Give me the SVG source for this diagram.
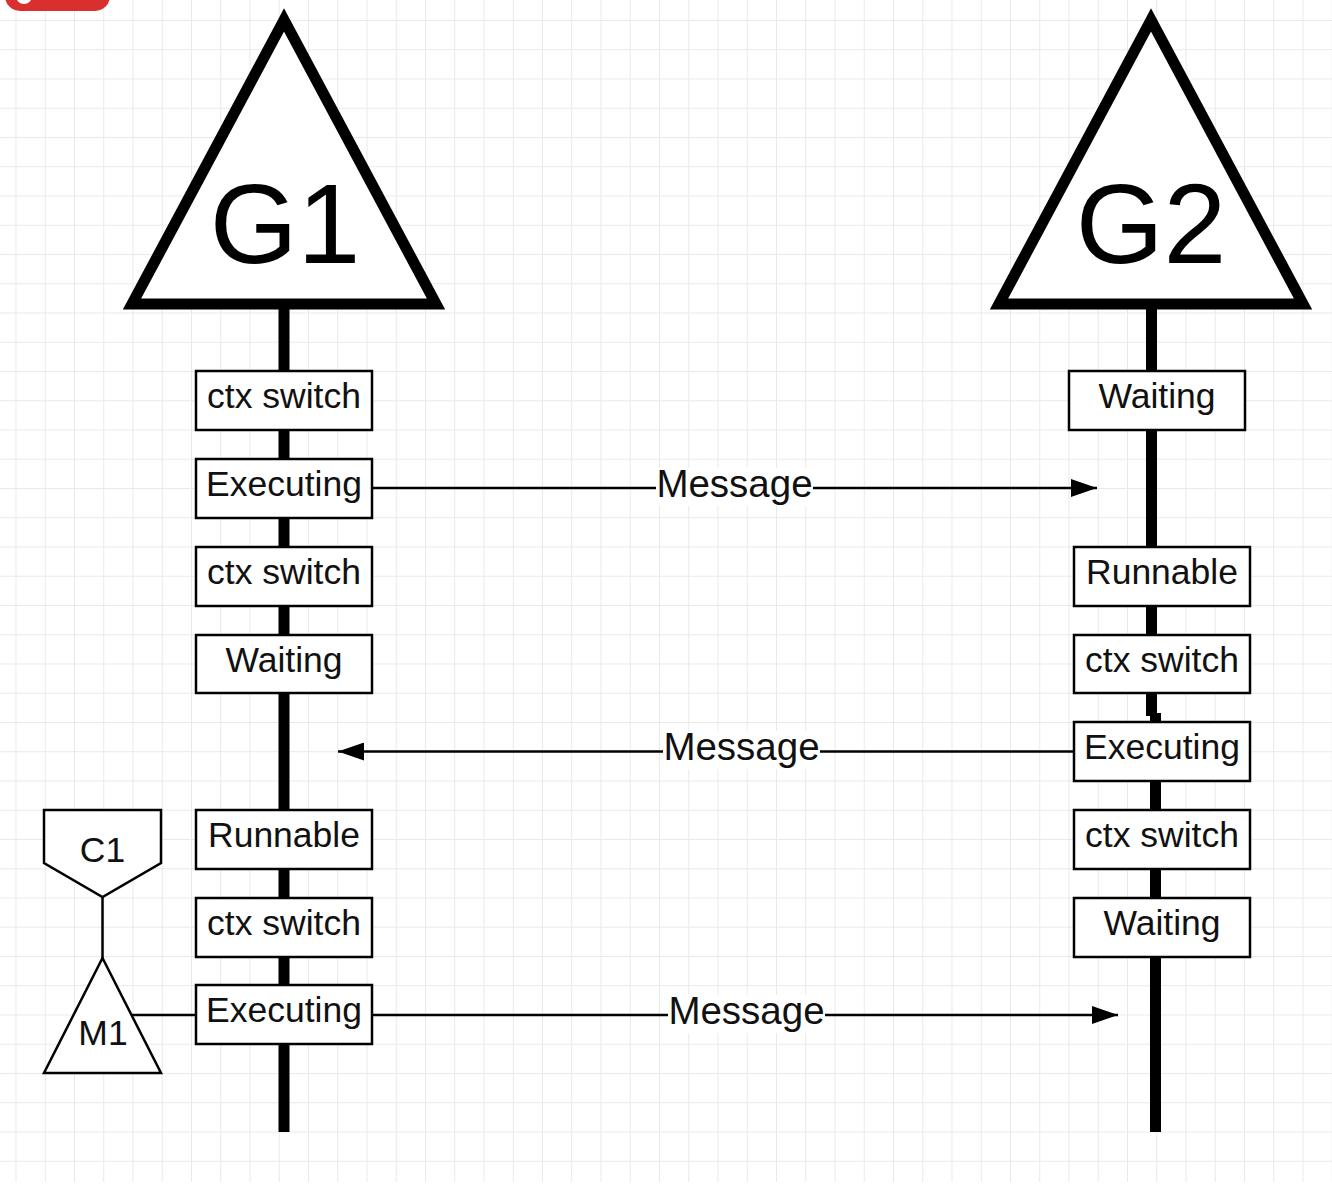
<svg xmlns="http://www.w3.org/2000/svg" width="1332" height="1188" viewBox="0 0 1332 1188">
<defs>
<pattern id="grid" x="15.5" y="20" width="29.25" height="29.25" patternUnits="userSpaceOnUse">
<path d="M0 0H29.25M0 0V29.25" fill="none" stroke="#e9e9e9" stroke-width="2"/>
</pattern>
<marker id="arr" viewBox="0 0 26 18" refX="26" refY="9" markerWidth="26" markerHeight="18" markerUnits="userSpaceOnUse" orient="auto">
<path d="M0 0L26 9L0 18Z" fill="#000"/>
</marker>
<style>
.box{fill:#fff;stroke:#000;stroke-width:2.5}
.lbl{font-family:"Liberation Sans",Arial,sans-serif;font-size:35.5px;fill:#111;text-anchor:middle}
.msg{font-family:"Liberation Sans",Arial,sans-serif;font-size:38.5px;fill:#111;text-anchor:middle}
.big{font-family:"Liberation Sans",Arial,sans-serif;font-size:113px;fill:#000;text-anchor:middle}
.tri{fill:#fff;stroke:#000;stroke-width:11;stroke-linejoin:miter}
.thin{fill:#fff;stroke:#000;stroke-width:2.5}
.conn{stroke:#000;stroke-width:2.5;fill:none}
.life{fill:#000}
</style>
</defs>
<rect width="1332" height="1188" fill="#fff"/>
<rect x="0" y="0" width="1332" height="1182" fill="url(#grid)"/>
<g id="badge">
<rect x="5" y="-25" width="105" height="36" rx="15" fill="#d9302f"/>
<circle cx="24" cy="-4" r="8" fill="#fff"/>
</g>

<g id="lifelines">
<rect class="life" x="278.5" y="300" width="11" height="832"/>
<rect class="life" x="1146" y="300" width="11" height="416"/>
<rect class="life" x="1150" y="713" width="11" height="419"/>
</g>

<g id="G1">
<path class="tri" d="M284 20L132 304H436Z"/>
<text class="big" x="285" y="263">G1</text>
</g>
<g id="G2">
<path class="tri" d="M1151 20L999 304H1303Z"/>
<text class="big" x="1151" y="263">G2</text>
</g>

<g id="connectors">
<line class="conn" x1="372" y1="488" x2="1097" y2="488" marker-end="url(#arr)"/>
<line class="conn" x1="1074" y1="751.5" x2="338" y2="751.5" marker-end="url(#arr)"/>
<line class="conn" x1="372" y1="1015" x2="1118" y2="1015" marker-end="url(#arr)"/>
<line class="conn" x1="102.5" y1="897" x2="102.5" y2="958"/>
<line class="conn" x1="131" y1="1015" x2="196" y2="1015"/>
<rect x="656" y="468" width="157" height="38" fill="#fff"/>
<text class="msg" x="734.5" y="496.5">Message</text>
<rect x="663" y="731" width="157" height="38" fill="#fff"/>
<text class="msg" x="741.5" y="760">Message</text>
<rect x="668" y="995" width="157" height="38" fill="#fff"/>
<text class="msg" x="746.5" y="1023.5">Message</text>
</g>

<g id="g1-ctx1"><rect class="box" x="196" y="371" width="176" height="59"/><text class="lbl" x="284" y="408">ctx switch</text></g>
<g id="g1-exec1"><rect class="box" x="196" y="459" width="176" height="59"/><text class="lbl" x="284" y="496">Executing</text></g>
<g id="g1-ctx2"><rect class="box" x="196" y="547" width="176" height="59"/><text class="lbl" x="284" y="584">ctx switch</text></g>
<g id="g1-wait"><rect class="box" x="196" y="635" width="176" height="58"/><text class="lbl" x="284" y="672">Waiting</text></g>
<g id="g1-run"><rect class="box" x="196" y="810" width="176" height="59"/><text class="lbl" x="284" y="847">Runnable</text></g>
<g id="g1-ctx3"><rect class="box" x="196" y="898" width="176" height="59"/><text class="lbl" x="284" y="935">ctx switch</text></g>
<g id="g1-exec2"><rect class="box" x="196" y="985" width="176" height="59"/><text class="lbl" x="284" y="1022">Executing</text></g>

<g id="g2-wait1"><rect class="box" x="1069" y="371" width="176" height="59"/><text class="lbl" x="1157" y="408">Waiting</text></g>
<g id="g2-run"><rect class="box" x="1074" y="547" width="176" height="59"/><text class="lbl" x="1162" y="584">Runnable</text></g>
<g id="g2-ctx1"><rect class="box" x="1074" y="635" width="176" height="58"/><text class="lbl" x="1162" y="672">ctx switch</text></g>
<g id="g2-exec"><rect class="box" x="1074" y="722" width="176" height="59"/><text class="lbl" x="1162" y="759">Executing</text></g>
<g id="g2-ctx2"><rect class="box" x="1074" y="810" width="176" height="59"/><text class="lbl" x="1162" y="847">ctx switch</text></g>
<g id="g2-wait2"><rect class="box" x="1074" y="898" width="176" height="59"/><text class="lbl" x="1162" y="935">Waiting</text></g>

<g id="C1">
<path class="thin" d="M44 810H161V863L102.5 897L44 863Z"/>
<text class="lbl" x="102.5" y="862">C1</text>
</g>
<g id="M1">
<path class="thin" d="M102.5 958L161 1073H44Z"/>
<text class="lbl" x="103" y="1045">M1</text>
</g>
</svg>
